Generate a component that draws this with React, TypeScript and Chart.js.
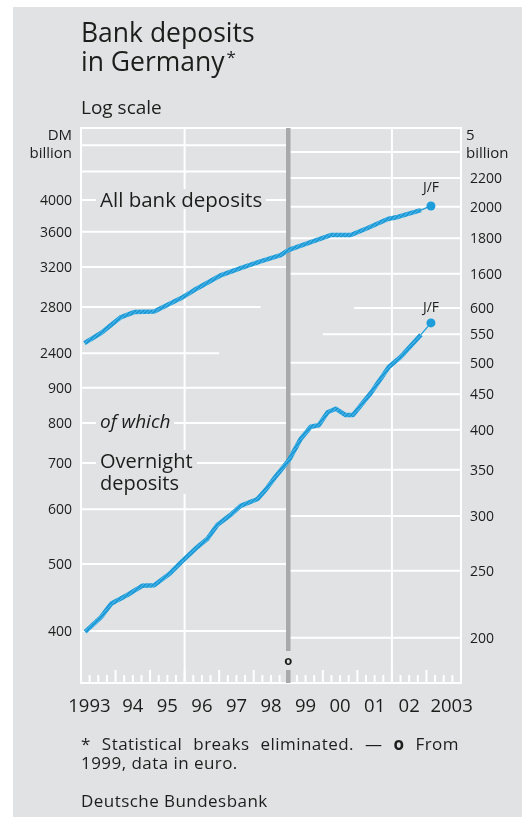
import React, { useEffect, useRef } from "react";
import { Chart, registerables } from "chart.js";
Chart.register(...registerables);

const DM_PER_EUR = 1.95583;
const BREAK_YEAR = 1999;

// All bank deposits: DM billion up to the break, € billion from 1999
const allDatesDM = [1993.1, 1993.58, 1994.16, 1994.54, 1995.12, 1995.9, 1996.28, 1997.06, 1997.62, 1998.22, 1998.78, 1999.0];
const allValuesDM = [2483, 2568, 2708, 2754, 2758, 2885, 2963, 3115, 3189, 3264, 3330, 3386];
const allDatesEUR = [1999.0, 1999.65, 2000.23, 2000.81, 2001.3, 2001.88, 2002.17, 2002.84];
const allValuesEUR = [1731, 1778, 1820, 1820, 1863, 1920, 1933, 1978];
const allLatestDate = 2003.13; // January/February 2003
const allLatestEUR = 2005;

// Overnight deposits
const onDatesDM = [1993.12, 1993.58, 1993.87, 1994.34, 1994.77, 1995.12, 1995.58, 1995.93, 1996.31, 1996.66, 1996.95, 1997.33, 1997.62, 1998.11, 1998.34, 1998.6, 1999.0];
const onValuesDM = [399, 419, 438, 451, 465, 466, 485, 505, 526, 544, 570, 589, 607, 621, 640, 666, 705];
const onDatesEUR = [1999.0, 1999.36, 1999.65, 1999.88, 2000.14, 2000.37, 2000.66, 2000.87, 2001.39, 2001.91, 2002.26, 2002.84];
const onValuesEUR = [360, 388, 404, 406, 424, 429, 420, 420, 452, 493, 510, 549];
const onLatestDate = 2003.13;
const onLatestEUR = 571;

// Axes
const dmUpperGrid = [2400, 2800, 3200, 3600, 4000, 4400, 4800];
const dmUpperTicks = [2400, 2800, 3200, 3600, 4000];
const eurUpperGrid = [1600, 1800, 2000, 2200, 2400];
const eurUpperTicks = [1600, 1800, 2000, 2200];
const dmLowerTicks = [400, 500, 600, 700, 800, 900];
const eurLowerTicks = [200, 250, 300, 350, 400, 450, 500, 550, 600];
const yearLabels = ["1993", "94", "95", "96", "97", "98", "99", "00", "01", "02", "2003"];
const firstYear = 1993;
const lastYear = 2004;
const vGridYears = [1996, 2002];
const dmGridEnd: Record<number, number> = { 2800: 1998.2, 2400: 1997.0 };
const eurGridStart: Record<number, number> = { 600: 2000.9, 550: 2000.0 };

const BLUE = "#1d9dd9";
const GREY = "#e1e2e4";
const TEXT = "#1d1d1b";
const FONT = '"Open Sans", "Noto Sans", sans-serif';

function makePattern(): CanvasPattern | string {
  const c = document.createElement("canvas");
  c.width = 4;
  c.height = 4;
  const g = c.getContext("2d");
  if (!g) return BLUE;
  g.fillStyle = "#1b98d5";
  g.fillRect(0, 0, 4, 4);
  g.strokeStyle = "#4cb5e6";
  g.lineWidth = 1.2;
  g.beginPath();
  g.moveTo(-1, 5);
  g.lineTo(5, -1);
  g.stroke();
  return g.createPattern(c, "repeat") || BLUE;
}

const decor = {
  id: "decor",
  beforeDatasetsDraw(chart: any) {
    const { ctx, chartArea: a, scales } = chart;
    const x = scales.x;
    const dmU = scales.yDMu, euU = scales.yEURu, dmL = scales.yDMl, euL = scales.yEURl;
    const xb = x.getPixelForValue(BREAK_YEAR);
    ctx.save();
    ctx.strokeStyle = "#ffffff";
    ctx.lineWidth = 2;
    const hline = (y: number, x0: number, x1: number) => {
      ctx.beginPath();
      ctx.moveTo(x0, y);
      ctx.lineTo(x1, y);
      ctx.stroke();
    };
    const vline = (xx: number, y0: number, y1: number) => {
      ctx.beginPath();
      ctx.moveTo(xx, y0);
      ctx.lineTo(xx, y1);
      ctx.stroke();
    };
    dmUpperGrid.forEach((v) => hline(dmU.getPixelForValue(v), a.left, x.getPixelForValue(dmGridEnd[v] ?? BREAK_YEAR)));
    dmLowerTicks.forEach((v) => hline(dmL.getPixelForValue(v), a.left, xb));
    eurUpperGrid.forEach((v) => hline(euU.getPixelForValue(v), xb, a.right));
    eurLowerTicks.forEach((v) => hline(euL.getPixelForValue(v), x.getPixelForValue(eurGridStart[v] ?? BREAK_YEAR), a.right));
    // frame
    hline(a.top, a.left - 1, a.right + 1);
    hline(a.bottom, a.left - 1, a.right + 1);
    vline(a.left, a.top, a.bottom);
    vline(a.right, a.top, a.bottom);
    vGridYears.forEach((yr) => vline(x.getPixelForValue(yr), a.top, a.bottom));
    // x ticks
    for (let yr = firstYear; yr <= lastYear; yr++) {
      vline(x.getPixelForValue(yr), a.bottom - 13, a.bottom);
      if (yr < lastYear) {
        for (let q = 1; q < 4; q++) vline(x.getPixelForValue(yr + q / 4), a.bottom - 8, a.bottom);
      }
    }
    // break bar
    ctx.strokeStyle = "#a8a9ab";
    ctx.lineWidth = 4.5;
    vline(xb, a.top, a.bottom - 32);
    vline(xb, a.bottom - 13, a.bottom);
    ctx.fillStyle = TEXT;
    ctx.font = `bold 13px ${FONT}`;
    ctx.textAlign = "center";
    ctx.textBaseline = "middle";
    ctx.fillText("o", xb, a.bottom - 22);
    ctx.restore();
  },
  afterDraw(chart: any) {
    const { ctx, chartArea: a, scales } = chart;
    const x = scales.x;
    const dmU = scales.yDMu, euU = scales.yEURu, dmL = scales.yDMl, euL = scales.yEURl;
    ctx.save();
    ctx.fillStyle = TEXT;
    ctx.textBaseline = "alphabetic";
    ctx.font = `14px ${FONT}`;
    ctx.textAlign = "right";
    dmUpperTicks.forEach((v) => ctx.fillText(String(v), a.left - 9, dmU.getPixelForValue(v) + 5));
    dmLowerTicks.forEach((v) => ctx.fillText(String(v), a.left - 9, dmL.getPixelForValue(v) + 5));
    ctx.textAlign = "left";
    eurUpperTicks.forEach((v) => ctx.fillText(String(v), a.right + 9, euU.getPixelForValue(v) + 5));
    eurLowerTicks.forEach((v) => ctx.fillText(String(v), a.right + 9, euL.getPixelForValue(v) + 5));
    // x labels
    ctx.font = `18.5px ${FONT}`;
    yearLabels.forEach((lab, i) => {
      const yr = firstYear + i;
      const yb = a.bottom + 29;
      if (i === 0) {
        ctx.textAlign = "right";
        ctx.fillText(lab, x.getPixelForValue(yr + 1) - 5, yb);
      } else if (i === yearLabels.length - 1) {
        ctx.textAlign = "left";
        ctx.fillText(lab, x.getPixelForValue(yr) + 4, yb);
      } else {
        ctx.textAlign = "center";
        ctx.fillText(lab, x.getPixelForValue(yr + 0.5), yb);
      }
    });
    // J/F labels
    ctx.font = `14px ${FONT}`;
    ctx.textAlign = "center";
    ctx.fillText("J/F", x.getPixelForValue(allLatestDate), euU.getPixelForValue(allLatestEUR) - 14);
    ctx.fillText("J/F", x.getPixelForValue(onLatestDate), euL.getPixelForValue(onLatestEUR) - 11);
    ctx.restore();
  },
};

const toPts = (xs: number[], ys: number[]) => xs.map((xv, i) => ({ x: xv, y: ys[i] }));

export default function App() {
  const ref = useRef<HTMLCanvasElement>(null);
  useEffect(() => {
    const canvas = ref.current;
    if (!canvas) return;
    const pattern = makePattern();
    const main = {
      borderColor: pattern,
      borderWidth: 4.5,
      pointRadius: 0,
      tension: 0,
      borderJoinStyle: "round",
      fill: false,
    };
    const latest = {
      borderColor: BLUE,
      borderWidth: 1.3,
      pointRadius: [0, 4.5],
      pointBackgroundColor: BLUE,
      pointBorderWidth: 0,
      tension: 0,
      fill: false,
    };
    const chart = new Chart(canvas, {
      type: "line",
      data: {
        datasets: [
          { ...main, label: "All bank deposits (DM)", data: toPts(allDatesDM, allValuesDM), yAxisID: "yDMu" },
          { ...main, label: "All bank deposits (€)", data: toPts(allDatesEUR, allValuesEUR), yAxisID: "yEURu" },
          {
            ...latest,
            label: "All bank deposits latest",
            data: [
              { x: allDatesEUR[allDatesEUR.length - 1], y: allValuesEUR[allValuesEUR.length - 1] },
              { x: allLatestDate, y: allLatestEUR },
            ],
            yAxisID: "yEURu",
          },
          { ...main, label: "Overnight deposits (DM)", data: toPts(onDatesDM, onValuesDM), yAxisID: "yDMl" },
          { ...main, label: "Overnight deposits (€)", data: toPts(onDatesEUR, onValuesEUR), yAxisID: "yEURl" },
          {
            ...latest,
            label: "Overnight deposits latest",
            data: [
              { x: onDatesEUR[onDatesEUR.length - 1], y: onValuesEUR[onValuesEUR.length - 1] },
              { x: onLatestDate, y: onLatestEUR },
            ],
            yAxisID: "yEURl",
          },
        ] as any,
      },
      options: {
        animation: false,
        responsive: false,
        events: [],
        layout: { padding: { left: 81, right: 61, top: 128, bottom: 134 } },
        plugins: { legend: { display: false }, tooltip: { enabled: false } },
        scales: {
          x: { type: "linear", min: firstYear, max: lastYear, display: false },
          yDMu: { type: "logarithmic", min: 800, max: 5085, display: false, bounds: "data" },
          yEURu: { type: "logarithmic", min: 800 / DM_PER_EUR, max: 5085 / DM_PER_EUR, display: false, bounds: "data" },
          yDMl: { type: "logarithmic", min: 336.4, max: 2138, display: false, bounds: "data" },
          yEURl: { type: "logarithmic", min: 336.4 / DM_PER_EUR, max: 2138 / DM_PER_EUR, display: false, bounds: "data" },
        },
      } as any,
      plugins: [decor],
    });
    return () => chart.destroy();
  }, []);

  const box: React.CSSProperties = { position: "absolute", background: GREY, padding: "0 4px", whiteSpace: "nowrap" };
  return (
    <div style={{ position: "absolute", left: 0, top: 0, width: 522, height: 817, background: "#fff", fontFamily: FONT, color: TEXT, overflow: "hidden" }}>
      <div style={{ position: "absolute", left: 13, top: 7, width: 509, height: 810, background: GREY }} />
      <canvas ref={ref} width={522} height={817} style={{ position: "absolute", left: 0, top: 0, width: 522, height: 817 }} />
      <div style={{ position: "absolute", left: 81, top: 18, fontSize: 26.5, lineHeight: "29px", whiteSpace: "nowrap" }}>
        Bank deposits
        <br />
        in Germany<span style={{ fontSize: 17, position: "relative", top: -8, marginLeft: 2 }}>*</span>
      </div>
      <div style={{ position: "absolute", left: 81, top: 98, fontSize: 19, lineHeight: "19px" }}>Log scale</div>
      <div style={{ position: "absolute", right: 522 - 72, top: 125, fontSize: 15, lineHeight: "18px", textAlign: "right" }}>
        DM
        <br />
        billion
      </div>
      <div style={{ position: "absolute", left: 466, top: 125, fontSize: 15, lineHeight: "18px" }}>
        5
        <br />
        billion
      </div>
      <div style={{ ...box, left: 96, top: 189, fontSize: 20.5, lineHeight: "20px" }}>All bank deposits</div>
      <div style={{ ...box, left: 96, top: 412, fontSize: 19, lineHeight: "19px", fontStyle: "italic" }}>of which</div>
      <div style={{ ...box, left: 96, top: 450, fontSize: 20, lineHeight: "22px" }}>
        Overnight
        <br />
        deposits
      </div>
      <div style={{ position: "absolute", left: 81, top: 734, width: 378, fontSize: 17, lineHeight: "19px", letterSpacing: 0.45 }}>
        <div style={{ textAlign: "justify", textAlignLast: "justify", whiteSpace: "nowrap" } as React.CSSProperties}>
          * Statistical breaks eliminated. — <b>o</b> From
        </div>
        <div>1999, data in euro.</div>
      </div>
      <div style={{ position: "absolute", left: 81, top: 791, fontSize: 17, lineHeight: "19px", letterSpacing: 0.45 }}>Deutsche Bundesbank</div>
    </div>
  );
}
